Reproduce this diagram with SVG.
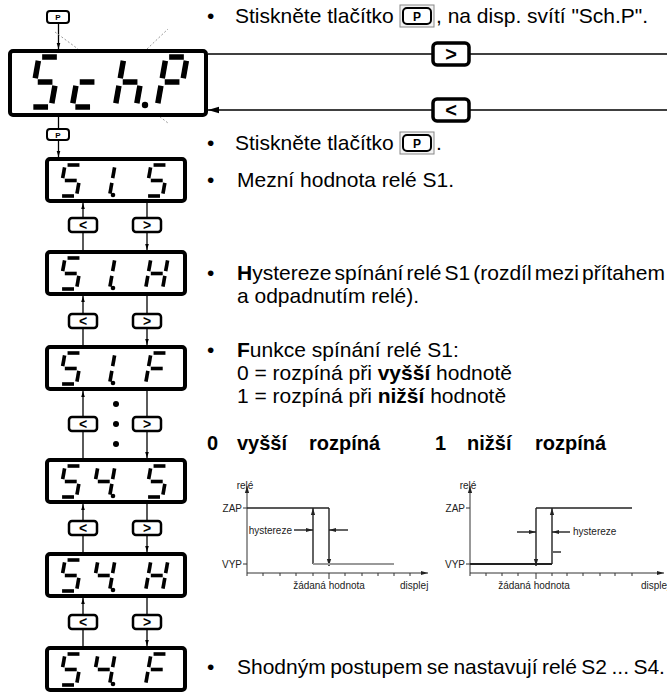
<svg xmlns="http://www.w3.org/2000/svg" width="667" height="695" viewBox="0 0 667 695">
<style>
text{font-family:"Liberation Sans",Arial,sans-serif;fill:#000}
.t{font-size:21px}
.b{font-weight:bold}
.bl{font-size:20px;font-weight:bold}
.ct{font-size:10px;fill:#222}
.disp{fill:#fff;stroke:#000;stroke-width:4}
.btn{fill:#fff;stroke:#000;stroke-width:2.5}
.bbtn{fill:#fff;stroke:#000;stroke-width:3.5}
.pbtn{fill:#fff;stroke:#000;stroke-width:2}
.bt{font-size:14px;font-weight:bold;text-anchor:middle}
.bbt{font-size:20px;font-weight:bold;text-anchor:middle}
.pt{font-size:8px;font-weight:bold;text-anchor:middle}
.conn{stroke:#000;stroke-width:1.3;fill:none}
.ray{stroke:#999;stroke-width:1;stroke-dasharray:2 2;fill:none}
.sm{stroke:#000;stroke-width:3.6}
.bg{stroke:#000;stroke-width:5.5}
.ax{stroke:#333;stroke-width:1;fill:none}
.ln{stroke:#222;stroke-width:1.4;fill:none}
</style>
<defs>
<marker id="ar" viewBox="0 0 10 10" refX="10" refY="5" markerWidth="6" markerHeight="6" orient="auto" markerUnits="userSpaceOnUse"><path d="M0,2 L10,5 L0,8 z" fill="#000"/></marker>
<marker id="arb" viewBox="0 0 10 10" refX="10" refY="5" markerWidth="11" markerHeight="11" orient="auto" markerUnits="userSpaceOnUse"><path d="M0,2 L10,5 L0,8 z" fill="#000"/></marker>
<marker id="ca" viewBox="0 0 10 10" refX="10" refY="5" markerWidth="7" markerHeight="7" orient="auto" markerUnits="userSpaceOnUse"><path d="M0,2 L10,5 L0,8 z" fill="#222"/></marker>
<line id="sa" x1="1.5" y1="0" x2="8.5" y2="0" vector-effect="non-scaling-stroke"/>
<line id="sb" x1="10" y1="1.5" x2="10" y2="8.5" vector-effect="non-scaling-stroke"/>
<line id="sc" x1="10" y1="11.5" x2="10" y2="18.5" vector-effect="non-scaling-stroke"/>
<line id="sd" x1="1.5" y1="20" x2="8.5" y2="20" vector-effect="non-scaling-stroke"/>
<line id="se" x1="0" y1="11.5" x2="0" y2="18.5" vector-effect="non-scaling-stroke"/>
<line id="sf" x1="0" y1="1.5" x2="0" y2="8.5" vector-effect="non-scaling-stroke"/>
<line id="sg" x1="1.5" y1="10" x2="8.5" y2="10" vector-effect="non-scaling-stroke"/>
<g id="c5"><use href="#sa"/><use href="#sf"/><use href="#sg"/><use href="#sc"/><use href="#sd"/></g>
<g id="c1"><use href="#sb"/><use href="#sc"/></g>
<g id="c4"><use href="#sf"/><use href="#sg"/><use href="#sb"/><use href="#sc"/></g>
<g id="cH"><use href="#sb"/><use href="#sc"/><use href="#se"/><use href="#sf"/><use href="#sg"/></g>
<g id="cF"><use href="#sa"/><use href="#sf"/><use href="#sg"/><use href="#se"/></g>
<g id="cLc"><use href="#sg"/><use href="#se"/><use href="#sd"/></g>
<g id="cLh"><use href="#sf"/><use href="#se"/><use href="#sg"/><use href="#sc"/></g>
<g id="cP"><use href="#sa"/><use href="#sb"/><use href="#sf"/><use href="#sg"/><use href="#se"/></g>
</defs>

<g id="connectors">
<line class="conn" x1="58.5" y1="23" x2="58.5" y2="49" marker-end="url(#ar)"/>
<line class="conn" x1="58.5" y1="117" x2="58.5" y2="129"/>
<line class="conn" x1="58.5" y1="140" x2="58.5" y2="157" marker-end="url(#ar)"/>
<line class="conn" x1="208" y1="54" x2="433" y2="54"/>
<line class="conn" x1="469" y1="54" x2="667" y2="54"/>
<line class="conn" x1="667" y1="110" x2="469" y2="110"/>
<line class="conn" x1="433" y1="110" x2="208" y2="110" marker-end="url(#arb)"/>
<line class="conn" x1="83" y1="218" x2="83" y2="203" marker-end="url(#ar)"/>
<line class="conn" x1="83" y1="232" x2="83" y2="250"/>
<line class="conn" x1="147" y1="203" x2="147" y2="218"/>
<line class="conn" x1="147" y1="232" x2="147" y2="250" marker-end="url(#ar)"/>
<line class="conn" x1="83" y1="314" x2="83" y2="296" marker-end="url(#ar)"/>
<line class="conn" x1="83" y1="328" x2="83" y2="345"/>
<line class="conn" x1="147" y1="296" x2="147" y2="314"/>
<line class="conn" x1="147" y1="328" x2="147" y2="345" marker-end="url(#ar)"/>
<line class="conn" x1="83" y1="417" x2="83" y2="391" marker-end="url(#ar)"/>
<line class="conn" x1="83" y1="431" x2="83" y2="458"/>
<line class="conn" x1="147" y1="391" x2="147" y2="417"/>
<line class="conn" x1="147" y1="431" x2="147" y2="458" marker-end="url(#ar)"/>
<line class="conn" x1="83" y1="521" x2="83" y2="504" marker-end="url(#ar)"/>
<line class="conn" x1="83" y1="535" x2="83" y2="552"/>
<line class="conn" x1="147" y1="504" x2="147" y2="521"/>
<line class="conn" x1="147" y1="535" x2="147" y2="552" marker-end="url(#ar)"/>
<line class="conn" x1="83" y1="615" x2="83" y2="598" marker-end="url(#ar)"/>
<line class="conn" x1="83" y1="629" x2="83" y2="646"/>
<line class="conn" x1="147" y1="598" x2="147" y2="615"/>
<line class="conn" x1="147" y1="629" x2="147" y2="646" marker-end="url(#ar)"/>
</g>

<g id="btn-p-top"><rect class="pbtn" x="47" y="11" width="22" height="12" rx="3"/><text class="pt" x="58" y="20">P</text></g>
<g id="btn-p-low"><rect class="pbtn" x="47" y="129" width="22" height="11" rx="3"/><text class="pt" x="58" y="137.5">P</text></g>

<g id="disp-schp">
<g class="ray">
<line x1="55" y1="32" x2="78" y2="49"/>
<line x1="147" y1="49" x2="168" y2="29"/>
<line x1="26" y1="53" x2="42" y2="58"/>
<line x1="186" y1="57" x2="204" y2="51"/>
<line x1="12" y1="104" x2="50" y2="95"/>
<line x1="174" y1="95" x2="204" y2="103"/>
<line x1="147" y1="107" x2="168" y2="123"/>
<line x1="66" y1="109" x2="76" y2="115"/>
</g>
<rect class="disp" x="10" y="51" width="196" height="64" rx="3"/>
<g class="bg">
<use href="#c5" transform="translate(39,57) skewX(-10) scale(2.1,2.5)"/>
<use href="#cLc" transform="translate(81,57) skewX(-10) scale(2.1,2.5)"/>
<use href="#cLh" transform="translate(124,57) skewX(-10) scale(2.1,2.5)"/>
<use href="#cP" transform="translate(166,57) skewX(-10) scale(2.1,2.5)"/>
</g>
<circle cx="145" cy="105" r="3.2"/>
</g>

<g id="btn-right-big"><rect class="bbtn" x="433" y="43" width="36" height="22" rx="4"/><text class="bbt" x="451" y="61">&gt;</text></g>
<g id="btn-left-big"><rect class="bbtn" x="433" y="99" width="36" height="22" rx="4"/><text class="bbt" x="451" y="117">&lt;</text></g>

<g id="disp-s1s">
<rect class="disp" x="47" y="159" width="138" height="42" rx="3"/>
<g class="sm">
<use href="#c5" transform="translate(65,165) skewX(-10) scale(1.7,1.55)"/>
<use href="#c1" transform="translate(98,165) skewX(-10) scale(1.7,1.55)"/>
<use href="#c5" transform="translate(151,165) skewX(-10) scale(1.7,1.55)"/>
</g>
<circle cx="113" cy="195" r="2.3"/>
</g>
<g id="disp-s1h">
<rect class="disp" x="47" y="252" width="138" height="42" rx="3"/>
<g class="sm">
<use href="#c5" transform="translate(65,258) skewX(-10) scale(1.7,1.55)"/>
<use href="#c1" transform="translate(98,258) skewX(-10) scale(1.7,1.55)"/>
<use href="#cH" transform="translate(151,258) skewX(-10) scale(1.7,1.55)"/>
</g>
<circle cx="113" cy="288" r="2.3"/>
</g>
<g id="disp-s1f">
<rect class="disp" x="47" y="347" width="138" height="42" rx="3"/>
<g class="sm">
<use href="#c5" transform="translate(65,353) skewX(-10) scale(1.7,1.55)"/>
<use href="#c1" transform="translate(98,353) skewX(-10) scale(1.7,1.55)"/>
<use href="#cF" transform="translate(151,353) skewX(-10) scale(1.7,1.55)"/>
</g>
<circle cx="113" cy="383" r="2.3"/>
</g>
<g id="disp-s4s">
<rect class="disp" x="47" y="460" width="138" height="42" rx="3"/>
<g class="sm">
<use href="#c5" transform="translate(65,466) skewX(-10) scale(1.7,1.55)"/>
<use href="#c4" transform="translate(98,466) skewX(-10) scale(1.7,1.55)"/>
<use href="#c5" transform="translate(151,466) skewX(-10) scale(1.7,1.55)"/>
</g>
<circle cx="113" cy="496" r="2.3"/>
</g>
<g id="disp-s4h">
<rect class="disp" x="47" y="554" width="138" height="42" rx="3"/>
<g class="sm">
<use href="#c5" transform="translate(65,560) skewX(-10) scale(1.7,1.55)"/>
<use href="#c4" transform="translate(98,560) skewX(-10) scale(1.7,1.55)"/>
<use href="#cH" transform="translate(151,560) skewX(-10) scale(1.7,1.55)"/>
</g>
<circle cx="113" cy="590" r="2.3"/>
</g>
<g id="disp-s4f">
<rect class="disp" x="47" y="648" width="138" height="42" rx="3"/>
<g class="sm">
<use href="#c5" transform="translate(65,654) skewX(-10) scale(1.7,1.55)"/>
<use href="#c4" transform="translate(98,654) skewX(-10) scale(1.7,1.55)"/>
<use href="#cF" transform="translate(151,654) skewX(-10) scale(1.7,1.55)"/>
</g>
<circle cx="113" cy="684" r="2.3"/>
</g>

<g id="btns-1"><rect class="btn" x="69" y="218" width="28" height="14" rx="3"/><text class="bt" x="83" y="230">&lt;</text><rect class="btn" x="133" y="218" width="28" height="14" rx="3"/><text class="bt" x="147" y="230">&gt;</text></g>
<g id="btns-2"><rect class="btn" x="69" y="314" width="28" height="14" rx="3"/><text class="bt" x="83" y="326">&lt;</text><rect class="btn" x="133" y="314" width="28" height="14" rx="3"/><text class="bt" x="147" y="326">&gt;</text></g>
<g id="btns-3"><rect class="btn" x="69" y="417" width="28" height="14" rx="3"/><text class="bt" x="83" y="429">&lt;</text><rect class="btn" x="133" y="417" width="28" height="14" rx="3"/><text class="bt" x="147" y="429">&gt;</text>
<circle cx="116" cy="404" r="3"/><circle cx="116" cy="424" r="3"/><circle cx="116" cy="444" r="3"/></g>
<g id="btns-4"><rect class="btn" x="69" y="521" width="28" height="14" rx="3"/><text class="bt" x="83" y="533">&lt;</text><rect class="btn" x="133" y="521" width="28" height="14" rx="3"/><text class="bt" x="147" y="533">&gt;</text></g>
<g id="btns-5"><rect class="btn" x="69" y="615" width="28" height="14" rx="3"/><text class="bt" x="83" y="627">&lt;</text><rect class="btn" x="133" y="615" width="28" height="14" rx="3"/><text class="bt" x="147" y="627">&gt;</text></g>

<g id="texts">
<text class="t" x="207" y="23">•</text>
<text class="t" x="235" y="23">Stiskněte tlačítko <tspan x="436">, na disp. svítí "Sch.P".</tspan></text>
<g id="inline-p1"><rect x="400" y="5" width="34" height="22" fill="#f2f2f2" stroke="#888" stroke-width="1"/><rect x="403" y="8" width="28" height="16" rx="4" fill="#fff" stroke="#000" stroke-width="2"/><text x="417" y="20.5" font-size="12" font-weight="bold" text-anchor="middle">P</text></g>

<text class="t" x="207" y="150">•</text>
<text class="t" x="235" y="150">Stiskněte tlačítko <tspan x="436">.</tspan></text>
<g id="inline-p2"><rect x="400" y="132" width="34" height="22" fill="#f2f2f2" stroke="#888" stroke-width="1"/><rect x="403" y="135" width="28" height="16" rx="4" fill="#fff" stroke="#000" stroke-width="2"/><text x="417" y="147.5" font-size="12" font-weight="bold" text-anchor="middle">P</text></g>

<text class="t" x="207" y="187">•</text>
<text class="t" x="237" y="187">Mezní hodnota relé S1.</text>

<text class="t" x="207" y="280">•</text>
<text class="t" x="237" y="280" word-spacing="-2.8"><tspan class="b">H</tspan>ystereze spínání relé S1 (rozdíl mezi přítahem</text>
<text class="t" x="237" y="303">a odpadnutím relé).</text>

<text class="t" x="207" y="357">•</text>
<text class="t" x="237" y="357"><tspan class="b">F</tspan>unkce spínání relé S1:</text>
<text class="t" x="237" y="380">0 = rozpíná při <tspan class="b">vyšší</tspan> hodnotě</text>
<text class="t" x="237" y="403">1 = rozpíná při <tspan class="b">nižší</tspan> hodnotě</text>

<text class="bl" x="207" y="450">0</text>
<text class="bl" x="237" y="450">vyšší</text>
<text class="bl" x="309" y="450">rozpíná</text>
<text class="bl" x="435" y="450">1</text>
<text class="bl" x="467" y="450">nižší</text>
<text class="bl" x="535" y="450">rozpíná</text>

<text class="t" x="207" y="674">•</text>
<text class="t" x="237" y="674" word-spacing="-1.4">Shodným postupem se nastavují relé S2 ... S4.</text>
</g>

<g id="chart-0">
<text class="ct" x="245" y="489" text-anchor="middle">relé</text>
<line class="ax" x1="247" y1="576" x2="247" y2="486" marker-end="url(#ca)"/>
<line class="ax" x1="247" y1="573" x2="428" y2="573" marker-end="url(#ca)"/>
<path class="ax" d="M243,508H247M243,564H247M263,573v3M280,573v3M296,573v3M313,573v3M329,573v6M345,573v3M362,573v3M378,573v3M394,573v3M410,573v3"/>
<text class="ct" x="242" y="512" text-anchor="end">ZAP</text>
<text class="ct" x="242" y="568" text-anchor="end">VYP</text>
<line class="ln" x1="247" y1="508" x2="329" y2="508"/>
<line class="ln" x1="329" y1="508" x2="329" y2="566" marker-end="url(#ca)"/>
<line class="ln" x1="313" y1="564" x2="313" y2="508" marker-end="url(#ca)"/>
<line x1="313" y1="564" x2="394" y2="564" stroke="#999" stroke-width="2"/>
<text class="ct" x="292" y="534" text-anchor="end">hystereze</text>
<line class="ln" x1="294" y1="530" x2="313" y2="530" marker-end="url(#ca)"/>
<line class="ln" x1="348" y1="530" x2="329" y2="530" marker-end="url(#ca)"/>
<text class="ct" x="329" y="589" text-anchor="middle">žádaná hodnota</text>
<text class="ct" x="400" y="589">displej</text>
</g>

<g id="chart-1">
<text class="ct" x="468" y="489" text-anchor="middle">relé</text>
<line class="ax" x1="470" y1="576" x2="470" y2="486" marker-end="url(#ca)"/>
<line class="ax" x1="470" y1="573" x2="664" y2="573" marker-end="url(#ca)"/>
<path class="ax" d="M466,508H470M466,564H470M486,573v3M502,573v3M518,573v3M536,573v6M552,573v3M567,573v3M583,573v3M600,573v3M615,573v3M632,573v3"/>
<text class="ct" x="465" y="512" text-anchor="end">ZAP</text>
<text class="ct" x="465" y="568" text-anchor="end">VYP</text>
<line x1="470" y1="564" x2="552" y2="564" stroke="#222" stroke-width="2"/>
<line class="ln" x1="536" y1="508" x2="536" y2="566" marker-end="url(#ca)"/>
<line class="ln" x1="552" y1="564" x2="552" y2="508" marker-end="url(#ca)"/>
<line class="ln" x1="536" y1="508" x2="632" y2="508"/>
<line class="ln" x1="553" y1="552" x2="561" y2="552"/>
<line class="ln" x1="517" y1="532" x2="536" y2="532" marker-end="url(#ca)"/>
<line class="ln" x1="570" y1="532" x2="552" y2="532" marker-end="url(#ca)"/>
<text class="ct" x="573" y="535">hystereze</text>
<text class="ct" x="534" y="589" text-anchor="middle">žádaná hodnota</text>
<text class="ct" x="641" y="589">displej</text>
</g>
</svg>
